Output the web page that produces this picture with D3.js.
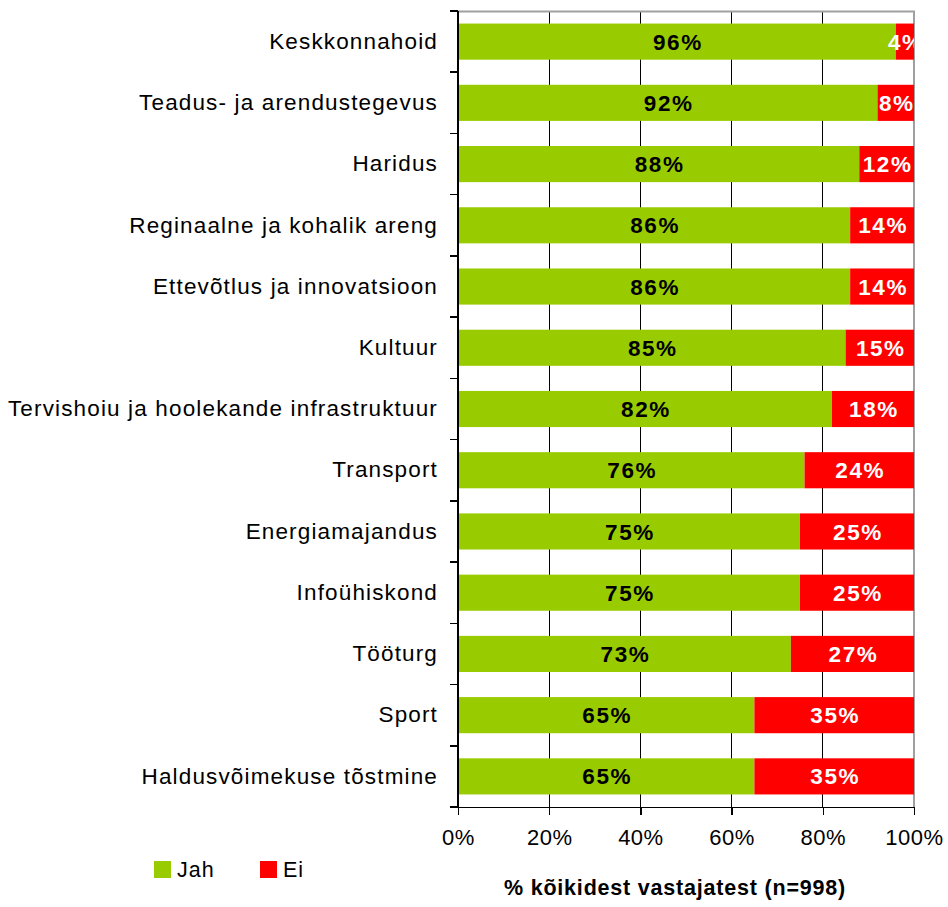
<!DOCTYPE html>
<html>
<head>
<meta charset="utf-8">
<script src="https://cdnjs.cloudflare.com/ajax/libs/d3/7.8.5/d3.min.js"></script>
<style>
  body { margin: 0; background: #fff; }
  svg { font-family: "Liberation Sans", Arial, sans-serif; display: block; }
  line, .domain { shape-rendering: crispEdges; }
</style>
</head>
<body>
<div id="graph"></div>
<script>
//Javascript Document

// chart data
var categories = ["Keskkonnahoid", "Teadus- ja arendustegevus", "Haridus", "Reginaalne ja kohalik areng",
  "Ettevõtlus ja innovatsioon", "Kultuur", "Tervishoiu ja hoolekande infrastruktuur", "Transport",
  "Energiamajandus", "Infoühiskond", "Tööturg", "Sport", "Haldusvõimekuse tõstmine"];
var jah = [96, 92, 88, 86, 86, 85, 82, 76, 75, 75, 73, 65, 65];
var ei = [4, 8, 12, 14, 14, 15, 18, 24, 25, 25, 27, 35, 35];
var seriesNames = ["Jah", "Ei"];
var xTicks = [0, 20, 40, 60, 80, 100];
var axisTitle = "% kõikidest vastajatest (n=998)";

(function(){
  "use strict";

  var width = 948, height = 907;
  var margin = {top: 11, left: 458, right: 34, bottom: 100};
  var plotW = width - margin.left - margin.right;
  var plotH = height - margin.top - margin.bottom;
  var colors = {Jah: "#99cc00", Ei: "#ff0000"};

  var svg = d3.select("#graph").append("svg")
      .attr("width", width)
      .attr("height", height);

  var g = svg.append("g")
      .attr("transform", "translate(" + margin.left + "," + margin.top + ")");

  var x = d3.scaleLinear().domain([0, 100]).range([0, plotW]);
  var y = d3.scaleBand().domain(categories).range([0, plotH])
      .paddingInner(0.41).paddingOuter(0.205);

  // clip so overflowing labels get cut at the plot edge
  svg.append("clipPath").attr("id", "plotclip")
    .append("rect").attr("width", plotW).attr("height", plotH);

  // vertical gridlines
  g.selectAll(".grid").data(xTicks.filter(function(d){ return d > 0 && d < 100; }))
    .enter().append("line")
      .attr("x1", function(d){ return x(d); })
      .attr("x2", function(d){ return x(d); })
      .attr("y1", 0).attr("y2", plotH)
      .attr("stroke", "#000").attr("stroke-width", 1);

  // plot border (top + right)
  g.append("path")
    .attr("d", "M0,0.5H" + plotW + "V" + plotH)
    .attr("fill", "none").attr("stroke", "#a0a0a0").attr("stroke-width", 2);

  // stacked data
  var rows = categories.map(function(c, i){ return {cat: c, Jah: jah[i], Ei: ei[i]}; });
  var stack = d3.stack().keys(seriesNames)(rows);

  var layers = g.selectAll(".layer").data(stack).enter().append("g")
      .attr("fill", function(d){ return colors[d.key]; });

  layers.selectAll("rect").data(function(d){ return d; }).enter().append("rect")
      .attr("x", function(d){ return x(d[0]); })
      .attr("width", function(d){ return x(d[1]) - x(d[0]); })
      .attr("y", function(d){ return y(d.data.cat); })
      .attr("height", y.bandwidth());

  // value labels
  var labels = g.append("g").attr("clip-path", "url(#plotclip)");
  stack.forEach(function(layer){
    labels.selectAll(".lbl-" + layer.key).data(layer).enter().append("text")
      .attr("x", function(d){ return x((d[0] + d[1]) / 2) + 1; })
      .attr("y", function(d){ return y(d.data.cat) + y.bandwidth() / 2; })
      .attr("dy", "0.36em")
      .attr("text-anchor", "middle")
      .attr("font-size", "22.5px")
      .attr("font-weight", "bold")
      .attr("letter-spacing", "1.6px")
      .attr("fill", layer.key === "Jah" ? "#000" : "#fff")
      .text(function(d){ return (d[1] - d[0]) + "%"; });
  });

  // left axis: line, boundary ticks, category labels
  g.append("line").attr("x1", 0).attr("x2", 0).attr("y1", 0).attr("y2", plotH + 0.5)
    .attr("stroke", "#000").attr("stroke-width", 1.5);
  var bounds = d3.range(categories.length + 1).map(function(i){ return i * y.step(); });
  g.selectAll(".ytick").data(bounds).enter().append("line")
    .attr("x1", -8).attr("x2", 0)
    .attr("y1", function(d){ return d; }).attr("y2", function(d){ return d; })
    .attr("stroke", "#000").attr("stroke-width", 1.5);

  var yAxis = d3.axisLeft(y).tickSize(0).tickPadding(20);
  var ya = g.append("g").call(yAxis);
  ya.select(".domain").remove();
  ya.selectAll("text")
    .attr("font-size", "22.5px")
    .attr("letter-spacing", "1.15px")
    .attr("fill", "#000")
    .attr("font-family", "Liberation Sans, Arial, sans-serif");

  // bottom axis
  var xAxis = d3.axisBottom(x).tickValues(xTicks)
      .tickFormat(function(d){ return d + "%"; })
      .tickSize(8).tickSizeOuter(0).tickPadding(14);
  var xa = g.append("g")
      .attr("transform", "translate(0," + plotH + ")")
      .call(xAxis);
  xa.select(".domain").attr("stroke-width", 1.5);
  xa.selectAll(".tick line").attr("stroke-width", 1.5);
  xa.selectAll("text")
    .attr("font-size", "22px")
    .attr("letter-spacing", "0.5px")
    .attr("fill", "#000")
    .attr("font-family", "Liberation Sans, Arial, sans-serif");

  // axis title
  g.append("text")
    .attr("x", plotW / 2 - 11)
    .attr("y", plotH + 88)
    .attr("text-anchor", "middle")
    .attr("font-size", "21.5px")
    .attr("font-weight", "bold")
    .attr("letter-spacing", "0.8px")
    .text(axisTitle);

  // legend
  var legend = svg.append("g").attr("transform", "translate(154,861)");
  var li = legend.selectAll(".li").data(seriesNames).enter().append("g")
      .attr("transform", function(d, i){ return "translate(" + (i * 106) + ",0)"; });
  li.append("rect").attr("width", 17).attr("height", 17)
    .attr("fill", function(d){ return colors[d]; });
  li.append("text").attr("x", 23).attr("y", 16)
    .attr("font-size", "21.5px")
    .attr("letter-spacing", "1px")
    .text(function(d){ return d; });
})();
</script>
</body>
</html>
